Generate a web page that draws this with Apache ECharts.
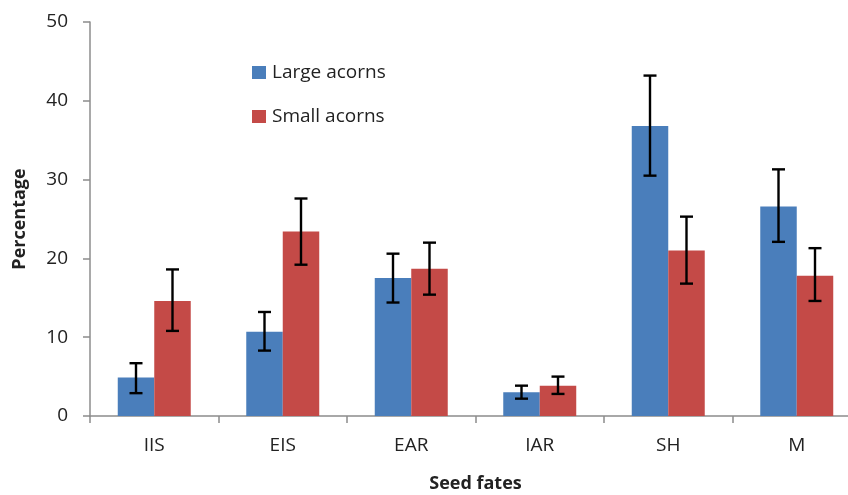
<!DOCTYPE html>
<html>
<head>
<meta charset="utf-8">
<script src="https://cdn.jsdelivr.net/npm/echarts@6/dist/echarts.min.js"></script>
<style>
  html, body { margin: 0; padding: 0; background: #fff; }
  #chart { width: 848px; height: 495px; }
</style>
</head>
<body>
<div id="chart"></div>
<script>
const categories = ['IIS', 'EIS', 'EAR', 'IAR', 'SH', 'M'];
const largeMean = [4.9, 10.7, 17.5, 3.0, 36.8, 26.6];
const largeLow  = [2.9, 8.3, 14.4, 2.2, 30.5, 22.1];
const largeHigh = [6.7, 13.2, 20.6, 3.85, 43.2, 31.3];
const smallMean = [14.6, 23.4, 18.7, 3.85, 21.0, 17.8];
const smallLow  = [10.8, 19.2, 15.4, 2.8, 16.8, 14.6];
const smallHigh = [18.6, 27.6, 22.0, 5.0, 25.3, 21.3];

const FONT = 'Open Sans';
const BAR_FRAC = 0.284;

// error bar drawn with custom series, shifted left/right of the category centre
function errorBar(side) {
  return function (params, api) {
    const x = api.value(0);
    const hi = api.coord([x, api.value(2)]);
    const lo = api.coord([x, api.value(1)]);
    const band = api.size([1, 0])[0];
    const cx = hi[0] + side * band * BAR_FRAC / 2;
    const cap = 6.5;
    const style = { stroke: '#000', lineWidth: 2.4 };
    return {
      type: 'group',
      children: [
        { type: 'line', shape: { x1: cx, y1: hi[1], x2: cx, y2: lo[1] }, style: style },
        { type: 'line', shape: { x1: cx - cap, y1: hi[1], x2: cx + cap, y2: hi[1] }, style: style },
        { type: 'line', shape: { x1: cx - cap, y1: lo[1], x2: cx + cap, y2: lo[1] }, style: style }
      ]
    };
  };
}

const chart = echarts.init(document.getElementById('chart'));
chart.setOption({
  animation: false,
  backgroundColor: '#fff',
  textStyle: { fontFamily: FONT },
  grid: { left: 90, top: 22, width: 771, height: 394, containLabel: false, outerBoundsMode: 'none' },
  legend: {
    orient: 'vertical',
    left: 252,
    top: 63,
    padding: 0,
    itemGap: 25,
    itemWidth: 14,
    itemHeight: 13,
    icon: 'rect',
    data: ['Large acorns', 'Small acorns'],
    textStyle: { fontFamily: FONT, fontSize: 19, color: '#222', padding: [0, 0, 0, 1] }
  },
  xAxis: {
    type: 'category',
    data: categories,
    name: 'Seed fates',
    nameLocation: 'middle',
    nameGap: 59,
    nameTextStyle: { fontFamily: FONT, fontSize: 18, fontWeight: 'bold', color: '#222' },
    axisLine: { lineStyle: { color: '#8c8c8c', width: 1.5 } },
    axisTick: { show: true, length: 7, lineStyle: { color: '#8c8c8c', width: 1.5 } },
    axisLabel: { fontSize: 19, color: '#222', margin: 20 }
  },
  yAxis: {
    type: 'value',
    min: 0,
    max: 50,
    interval: 10,
    name: 'Percentage',
    nameLocation: 'middle',
    nameGap: 61,
    nameTextStyle: { fontFamily: FONT, fontSize: 18, fontWeight: 'bold', color: '#222' },
    axisLine: { show: true, lineStyle: { color: '#8c8c8c', width: 1.5 } },
    axisTick: { show: true, length: 7, lineStyle: { color: '#8c8c8c', width: 1.5 } },
    axisLabel: { fontSize: 19, color: '#222', margin: 22 },
    splitLine: { show: false }
  },
  series: [
    {
      name: 'Large acorns',
      type: 'bar',
      data: largeMean,
      barWidth: (BAR_FRAC * 100) + '%',
      barGap: '0%',
      itemStyle: { color: '#4a7ebb' }
    },
    {
      name: 'Small acorns',
      type: 'bar',
      data: smallMean,
      barWidth: (BAR_FRAC * 100) + '%',
      barGap: '0%',
      itemStyle: { color: '#c44a47' }
    },
    {
      type: 'custom',
      renderItem: errorBar(-1),
      data: categories.map((c, i) => [i, largeLow[i], largeHigh[i]]),
      z: 10
    },
    {
      type: 'custom',
      renderItem: errorBar(1),
      data: categories.map((c, i) => [i, smallLow[i], smallHigh[i]]),
      z: 10
    }
  ]
});
</script>
</body>
</html>
